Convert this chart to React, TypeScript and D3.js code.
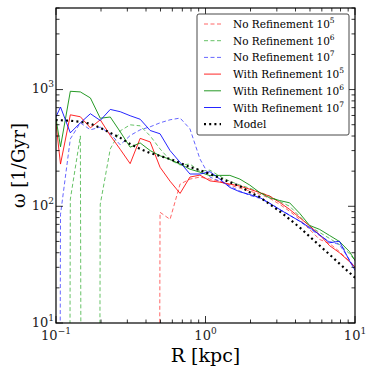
import React from "react";
import * as d3 from "d3";

// radial bins (kpc), shared by all runs
const radius = [
  0.0918, 0.1072, 0.1247, 0.1455, 0.1698, 0.1977, 0.2307, 0.2692, 0.3133, 0.3656,
  0.4266, 0.4966, 0.5794, 0.6761, 0.787, 0.9183, 1.0715, 1.247, 1.455, 1.698,
  1.977, 2.307, 2.692, 3.133, 3.656, 4.266, 4.966, 5.794, 6.761, 7.87, 9.183, 10.72,
];

// omega [1/Gyr]; 0 = empty bin
const noRef5 = [
  0, 0, 0, 0, 0, 0, 0, 0, 0, 0, 0, 88.8, 77.3, 155, 171, 178,
  171, 164, 152, 143, 135, 127, 117, 104, 90.6, 77.3, 63.4, 52, 48, 40.9, 33.6, 27.5,
];
const noRef6 = [
  0, 0, 115, 401, 0, 104, 310, 443, 499, 489, 401, 310, 249, 226, 230, 200,
  204, 181, 164, 152, 143, 132, 122, 110, 100, 82, 67.3, 59.7, 53, 47, 39.3, 31,
];
const noRef7 = [
  0, 85.3, 378, 519, 452, 477, 418, 336, 404, 452, 480, 519, 551, 570, 461, 254,
  178, 164, 149, 135, 124, 117, 106, 94, 84, 74.3, 64.6, 56.2, 49.9, 47, 34.9, 25.9,
];
const withRef5 = [
  1370, 230, 608, 585, 470, 551, 404, 307, 232, 382, 356, 216, 164, 129, 178, 185,
  165, 161, 155, 149, 140, 131, 122, 108, 94, 80, 68, 57, 46, 40, 33.6, 27.5,
];
const withRef6 = [
  1127, 323, 967, 955, 848, 568, 582, 434, 321, 349, 300, 271, 252, 230, 208, 196,
  183, 184, 184, 171, 152, 131, 118, 112, 107, 87, 68.6, 63.4, 56.2, 49.9, 40.9, 29.8,
];
const withRef7 = [
  461, 709, 426, 519, 621, 544, 676, 646, 597, 557, 446, 418, 300, 238, 189, 189,
  198, 171, 145, 133, 126, 119, 106, 94, 83.6, 74.7, 65.9, 57, 48.7, 50.2, 34.2, 24.4,
];
const model = [
  551, 546, 541, 530, 509, 470, 426, 386, 342, 310, 286, 270, 254, 235, 217, 204,
  189, 174, 161, 149, 132, 120, 104, 90.6, 77.3, 65.9, 55.1, 46.1, 38.6, 32.3, 27, 22.6,
];

const labels = [
  "No Refinement",
  "No Refinement",
  "No Refinement",
  "With Refinement",
  "With Refinement",
  "With Refinement",
  "Model",
];
const exponents = ["5", "6", "7", "5", "6", "7", ""];
const allSeries = [noRef5, noRef6, noRef7, withRef5, withRef6, withRef7, model];

const styles = [
  { color: "#ff0000", dash: "4,2.5", width: 1, opacity: 0.6 },
  { color: "#009900", dash: "4,2.5", width: 1, opacity: 0.6 },
  { color: "#0000ff", dash: "4,2.5", width: 1, opacity: 0.6 },
  { color: "#ff0000", dash: null, width: 1, opacity: 0.85 },
  { color: "#008800", dash: null, width: 1, opacity: 0.85 },
  { color: "#0000ff", dash: null, width: 1, opacity: 0.85 },
  { color: "#000000", dash: "2,3.2", width: 2.2, opacity: 1 },
];

const xMajor = [0.1, 1, 10];
const xMajorExp = ["\u22121", "0", "1"];
const yMajor = [10, 100, 1000];
const yMajorExp = ["1", "2", "3"];

const W = 374;
const H = 374;
const left = 56;
const right = 355;
const top = 8;
const bottom = 323;
const font = '"DejaVu Serif", serif';
const tf = { fontFamily: font };

export default function App() {
  const x = d3.scaleLog().domain([0.1, 10]).range([left, right]);
  const y = d3.scaleLog().domain([10, 5000]).range([bottom, top]);

  const line = d3
    .line<[number, number]>()
    .x((d) => x(d[0]))
    .y((d) => y(Math.max(d[1], 1e-30)));

  const xMinor: number[] = [];
  [0.1, 1].forEach((b) => d3.range(2, 10).forEach((m) => xMinor.push(b * m)));
  const yMinor: number[] = [];
  [10, 100, 1000].forEach((b) =>
    d3.range(2, 10).forEach((m) => {
      if (b * m <= 5000) yMinor.push(b * m);
    })
  );

  const legX = 197;
  const legY = 14;
  const rowH = 16.7;

  return (
    <svg
      width={W}
      height={H}
      style={{ position: "absolute", left: 0, top: 0, background: "#fff" }}
    >
      <defs>
        <clipPath id="plot">
          <rect x={left} y={top} width={right - left} height={bottom - top} />
        </clipPath>
      </defs>
      <rect x={0} y={0} width={W} height={H} fill="#fff" />

      <g clipPath="url(#plot)">
        {allSeries.map((s, i) => (
          <path
            key={i}
            d={line(radius.map((r, j) => [r, s[j]] as [number, number])) || ""}
            fill="none"
            stroke={styles[i].color}
            strokeWidth={styles[i].width}
            strokeOpacity={styles[i].opacity}
            strokeDasharray={styles[i].dash || undefined}
            strokeLinejoin="round"
          />
        ))}
      </g>

      {/* ticks */}
      <g stroke="#000" strokeWidth={0.8}>
        {xMajor.map((v) => (
          <g key={"xM" + v}>
            <line x1={x(v)} x2={x(v)} y1={bottom} y2={bottom - 7} />
            <line x1={x(v)} x2={x(v)} y1={top} y2={top + 7} />
          </g>
        ))}
        {xMinor.map((v) => (
          <g key={"xm" + v}>
            <line x1={x(v)} x2={x(v)} y1={bottom} y2={bottom - 3.5} />
            <line x1={x(v)} x2={x(v)} y1={top} y2={top + 3.5} />
          </g>
        ))}
        {yMajor.map((v) => (
          <g key={"yM" + v}>
            <line x1={left} x2={left + 7} y1={y(v)} y2={y(v)} />
            <line x1={right} x2={right - 7} y1={y(v)} y2={y(v)} />
          </g>
        ))}
        {yMinor.map((v) => (
          <g key={"ym" + v}>
            <line x1={left} x2={left + 3.5} y1={y(v)} y2={y(v)} />
            <line x1={right} x2={right - 3.5} y1={y(v)} y2={y(v)} />
          </g>
        ))}
      </g>

      <rect
        x={left}
        y={top}
        width={right - left}
        height={bottom - top}
        fill="none"
        stroke="#000"
        strokeWidth={1.2}
      />

      {/* tick labels */}
      {xMajor.map((v, i) => (
        <text key={"xl" + v} x={x(v)} y={bottom + 17} textAnchor="middle" fontSize={13} fill="#222" style={tf}>
          10
          <tspan dy={-6} fontSize={9}>
            {xMajorExp[i]}
          </tspan>
        </text>
      ))}
      {yMajor.map((v, i) => (
        <text key={"yl" + v} x={left - 2} y={y(v) + 3.5} textAnchor="end" fontSize={13} fill="#222" style={tf}>
          10
          <tspan dy={-6} fontSize={9}>
            {yMajorExp[i]}
          </tspan>
        </text>
      ))}

      {/* axis titles */}
      <text x={(left + right) / 2} y={362} textAnchor="middle" fontSize={19} fill="#000" style={tf}>
        R [kpc]
      </text>
      <text
        transform={`translate(25,${(top + bottom) / 2}) rotate(-90)`}
        textAnchor="middle"
        fontSize={18}
        fill="#000"
        style={tf}
      >
        {"\u03c9 [1/Gyr]"}
      </text>

      {/* legend */}
      <rect
        x={legX}
        y={legY}
        width={152}
        height={121}
        rx={2}
        fill="#fff"
        stroke="#333"
        strokeWidth={0.9}
      />
      {labels.map((lab, i) => {
        const cy = legY + 10 + i * rowH;
        return (
          <g key={"lg" + i}>
            <line
              x1={legX + 7}
              x2={legX + 24}
              y1={cy}
              y2={cy}
              stroke={styles[i].color}
              strokeWidth={styles[i].width}
              strokeOpacity={styles[i].opacity}
              strokeDasharray={styles[i].dash || undefined}
            />
            <text x={legX + 36} y={cy + 4} fontSize={10.5} fill="#000" style={tf}>
              {lab}
              {exponents[i] ? (
                <>
                  <tspan> 10</tspan>
                  <tspan dy={-5} fontSize={7.5}>
                    {exponents[i]}
                  </tspan>
                </>
              ) : null}
            </text>
          </g>
        );
      })}
    </svg>
  );
}
